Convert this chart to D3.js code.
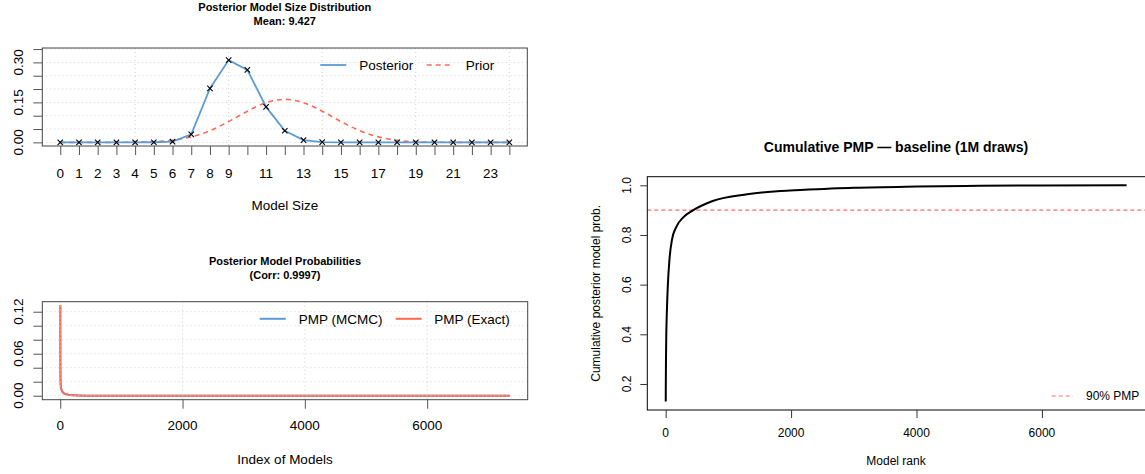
<!DOCTYPE html>
<html><head><meta charset="utf-8">
<script src="https://cdn.jsdelivr.net/npm/d3@7"></script>
<style>
html,body{margin:0;padding:0;background:#fff;}
svg{display:block;font-family:"Liberation Sans",Arial,Helvetica,sans-serif;}
</style></head><body>
<svg id="c" width="1145" height="474"></svg>
<script>
// ---------- data ----------
const modelSizes = [0,1,2,3,4,5,6,7,8,9,10,11,12,13,14,15,16,17,18,19,20,21,22,23,24];
const posterior  = [0,0,0,0,0,0.0005,0.0025,0.030,0.2025,0.3086,0.272,0.133,0.0435,0.0086,0.001,0,0,0,0,0,0,0,0,0,0];
const prior      = [0,0,0.00002,0.00012,0.00063,0.00253,0.00802,0.02063,0.04384,0.07793,0.11690,0.14878,0.16118,0.14878,0.11690,0.07793,0.04384,0.02063,0.00802,0.00253,0.00063,0.00012,0.00002,0,0];
const sizeTickLabels = [0,1,2,3,4,5,6,7,8,9,11,13,15,17,19,21,23];
const sizeGridX = [4,9,14,19,24];
const sizeYTicks = [0,0.05,0.10,0.15,0.20,0.25,0.30,0.35];
const sizeYLabels = [0,0.15,0.30];

const pmpIndex = [1,2,3,5,10,20,40,80,150,300,600,1200,2500,5000,7350];
const pmpMCMC  = [0.1290,0.0552,0.0352,0.0221,0.0131,0.0084,0.0051,0.0025,0.0011,0.0004,0.00012,0.00004,0.00001,0.000003,0.000001];
const pmpExact = [0.1296,0.0550,0.0350,0.0220,0.0130,0.0085,0.0052,0.0025,0.0011,0.0004,0.00012,0.00004,0.00001,0.000003,0.000001];
const pmpXTicks = [0,2000,4000,6000];
const pmpYTicks = [0,0.02,0.04,0.06,0.08,0.10,0.12];
const pmpYLabels = [0,0.06,0.12];

const cumRank = [1,2,3,5,10,20,35,60,100,170,280,440,750,1300,1830,2150,3000,4000,5000,6000,7350];
const cumPMP  = [0.13,0.19,0.23,0.30,0.40,0.50,0.60,0.70,0.78,0.833,0.871,0.90,0.937,0.964,0.977,0.981,0.990,0.995,0.998,0.999,1.0];
const cumXTicks = [0,2000,4000,6000];
const cumYTicks = [0.2,0.4,0.6,0.8,1.0];
const threshold = 0.9;

// ---------- style ----------
const BLUE = "#5B9BD5", RED = "#FF6A55", RED2 = "#FF6B6B", GRID = "#d0d0d0", AX = "#555";
const svg = d3.select("#c");
svg.append("rect").attr("width",1145).attr("height",474).attr("fill","#fff");

function txt(g, x, yc, s, size, opts={}) {
  return g.append("text").attr("x",x).attr("y",yc).attr("dy","0.35em")
    .attr("text-anchor",opts.anchor||"middle").attr("font-size",size)
    .attr("font-weight",opts.bold?"bold":"normal").attr("fill",opts.fill||"#000").text(s);
}
function vtxt(g, xc, yc, s, size) {
  return g.append("text").attr("transform",`translate(${xc},${yc}) rotate(-90)`)
    .attr("dy","0.35em").attr("text-anchor","middle").attr("font-size",size).attr("fill","#000").text(s);
}
function styleAxis(sel, color) {
  sel.select(".domain").remove();
  sel.selectAll(".tick line").attr("stroke",color).attr("stroke-width",1);
}

// ================= Panel A: model size =================
{
  const A = {l:42.3, r:527.3, t:48, b:146};
  const g = svg.append("g");
  const x = d3.scaleLinear().domain([-0.96,24.96]).range([A.l,A.r]);
  const y = d3.scaleLinear().domain([-0.0136,0.354]).range([A.b,A.t]);
  // grid
  g.selectAll(".gx").data(sizeGridX).join("line").attr("x1",d=>x(d)).attr("x2",d=>x(d))
    .attr("y1",A.t).attr("y2",A.b).attr("stroke",GRID).attr("stroke-dasharray","1,3");
  g.selectAll(".gy").data(sizeYTicks).join("line").attr("y1",d=>y(d)).attr("y2",d=>y(d))
    .attr("x1",A.l).attr("x2",A.r).attr("stroke",GRID).attr("stroke-dasharray","1,3");
  // lines
  g.append("path").datum(modelSizes).attr("fill","none").attr("stroke",RED).attr("stroke-width",1.6)
    .attr("stroke-dasharray","5,4")
    .attr("d",d3.line().x(d=>x(d)).y((d,i)=>y(prior[i])).curve(d3.curveMonotoneX));
  g.append("path").datum(modelSizes).attr("fill","none").attr("stroke",BLUE).attr("stroke-width",1.8)
    .attr("d",d3.line().x(d=>x(d)).y((d,i)=>y(posterior[i])));
  g.selectAll(".mk").data(modelSizes).join("path")
    .attr("transform",(d,i)=>`translate(${x(d)},${y(posterior[i])})`)
    .attr("d","M-2.7,-2.7L2.7,2.7M-2.7,2.7L2.7,-2.7").attr("stroke","#000").attr("stroke-width",1.1);
  // box
  g.append("rect").attr("x",A.l).attr("y",A.t).attr("width",A.r-A.l).attr("height",A.b-A.t)
    .attr("fill","none").attr("stroke","#444").attr("stroke-width",1);
  // axes
  const ax = g.append("g").attr("transform",`translate(0,${A.b})`)
    .call(d3.axisBottom(x).tickValues(modelSizes).tickSize(9).tickFormat(""));
  styleAxis(ax, AX);
  const ay = g.append("g").attr("transform",`translate(${A.l},0)`)
    .call(d3.axisLeft(y).tickValues(sizeYTicks).tickSize(9).tickFormat(""));
  styleAxis(ay, AX);
  sizeTickLabels.forEach(v=>txt(g, x(v), 173.3, String(v), 13.5));
  sizeYLabels.forEach(v=>vtxt(g, 18.3, y(v), v.toFixed(2), 13.5));
  // titles
  const cx = (A.l+A.r)/2;
  txt(g, cx, 6.8, "Posterior Model Size Distribution", 11, {bold:true});
  txt(g, cx, 20.8, "Mean: 9.427", 11, {bold:true});
  txt(g, cx, 205.7, "Model Size", 13.5);
  // legend
  const ly = 65;
  g.append("line").attr("x1",320.3).attr("x2",346.3).attr("y1",ly).attr("y2",ly).attr("stroke",BLUE).attr("stroke-width",1.8);
  txt(g, 359.3, ly, "Posterior", 13.5, {anchor:"start"});
  g.append("line").attr("x1",426.7).attr("x2",452.7).attr("y1",ly).attr("y2",ly).attr("stroke",RED).attr("stroke-width",1.6).attr("stroke-dasharray","5,4");
  txt(g, 465.7, ly, "Prior", 13.5, {anchor:"start"});
}

// ================= Panel B: PMP =================
{
  const B = {l:42.3, r:527.7, t:301.7, b:399.7};
  const g = svg.append("g");
  const x = d3.scaleLinear().domain([-293,7644]).range([B.l,B.r]);
  const y = d3.scaleLinear().domain([-0.0057,0.1343]).range([B.b,B.t]);
  g.append("path").datum(pmpIndex).attr("fill","none").attr("stroke",BLUE).attr("stroke-width",2)
    .attr("d",d3.line().x(d=>x(d)).y((d,i)=>y(pmpMCMC[i])).curve(d3.curveMonotoneX));
  g.append("path").datum(pmpIndex).attr("fill","none").attr("stroke",RED).attr("stroke-width",2)
    .attr("d",d3.line().x(d=>x(d)).y((d,i)=>y(pmpExact[i])).curve(d3.curveMonotoneX));
  // grid over lines
  g.selectAll(".gx").data(pmpXTicks).join("line").attr("x1",d=>x(d)).attr("x2",d=>x(d))
    .attr("y1",B.t).attr("y2",B.b).attr("stroke",GRID).attr("stroke-dasharray","1,3");
  g.selectAll(".gy").data(pmpYTicks).join("line").attr("y1",d=>y(d)).attr("y2",d=>y(d))
    .attr("x1",B.l).attr("x2",B.r).attr("stroke",GRID).attr("stroke-dasharray","1,3");
  g.append("rect").attr("x",B.l).attr("y",B.t).attr("width",B.r-B.l).attr("height",B.b-B.t)
    .attr("fill","none").attr("stroke","#444").attr("stroke-width",1);
  const ax = g.append("g").attr("transform",`translate(0,${B.b})`)
    .call(d3.axisBottom(x).tickValues(pmpXTicks).tickSize(9).tickFormat(""));
  styleAxis(ax, AX);
  const ay = g.append("g").attr("transform",`translate(${B.l},0)`)
    .call(d3.axisLeft(y).tickValues(pmpYTicks).tickSize(9).tickFormat(""));
  styleAxis(ay, AX);
  pmpXTicks.forEach(v=>txt(g, x(v), 425, String(v), 13.5));
  pmpYLabels.forEach(v=>vtxt(g, 18.3, y(v), v.toFixed(2), 13.5));
  const cx = (B.l+B.r)/2;
  txt(g, cx, 260.7, "Posterior Model Probabilities", 11, {bold:true});
  txt(g, cx, 275, "(Corr: 0.9997)", 11, {bold:true});
  txt(g, cx, 459.5, "Index of Models", 13.5);
  const ly = 318.8;
  g.append("line").attr("x1",259.7).attr("x2",285.7).attr("y1",ly).attr("y2",ly).attr("stroke",BLUE).attr("stroke-width",2);
  txt(g, 298.7, ly, "PMP (MCMC)", 13.5, {anchor:"start"});
  g.append("line").attr("x1",395.7).attr("x2",421.7).attr("y1",ly).attr("y2",ly).attr("stroke",RED).attr("stroke-width",2);
  txt(g, 434.3, ly, "PMP (Exact)", 13.5, {anchor:"start"});
}

// ================= Panel C: cumulative =================
{
  const C = {l:647.3, r:1145.5, t:176.7, b:410};
  const g = svg.append("g");
  const x = d3.scaleLinear().domain([-293,7644]).range([C.l,1145]);
  const y = d3.scaleLinear().domain([0.0953,1.0346]).range([C.b,C.t]);
  g.append("line").attr("x1",C.l).attr("x2",1145).attr("y1",y(threshold)).attr("y2",y(threshold))
    .attr("stroke",RED2).attr("stroke-width",1.2).attr("stroke-dasharray","4,3");
  g.append("path").datum(cumRank).attr("fill","none").attr("stroke","#000").attr("stroke-width",2)
    .attr("d",d3.line().x(d=>x(d)).y((d,i)=>y(cumPMP[i])).curve(d3.curveMonotoneX));
  g.append("rect").attr("x",C.l).attr("y",C.t).attr("width",C.r-C.l).attr("height",C.b-C.t)
    .attr("fill","none").attr("stroke","#000").attr("stroke-width",1);
  const ax = g.append("g").attr("transform",`translate(0,${C.b})`)
    .call(d3.axisBottom(x).tickValues(cumXTicks).tickSize(8).tickFormat(""));
  styleAxis(ax, "#333");
  const ay = g.append("g").attr("transform",`translate(${C.l},0)`)
    .call(d3.axisLeft(y).tickValues(cumYTicks).tickSize(7).tickFormat(""));
  styleAxis(ay, "#333");
  cumXTicks.forEach(v=>txt(g, x(v), 433, String(v), 12));
  cumYTicks.forEach(v=>vtxt(g, 626.7, y(v), v.toFixed(1), 12));
  txt(g, 896, 146.7, "Cumulative PMP \u2014 baseline (1M draws)", 14, {bold:true});
  txt(g, 896, 461, "Model rank", 12);
  vtxt(g, 596, (C.t+C.b)/2, "Cumulative posterior model prob.", 12);
  g.append("line").attr("x1",1051.7).attr("x2",1073).attr("y1",396).attr("y2",396)
    .attr("stroke",RED2).attr("stroke-width",1.2).attr("stroke-dasharray","4,3");
  txt(g, 1086, 396, "90% PMP", 12, {anchor:"start"});
}
</script></body></html>
